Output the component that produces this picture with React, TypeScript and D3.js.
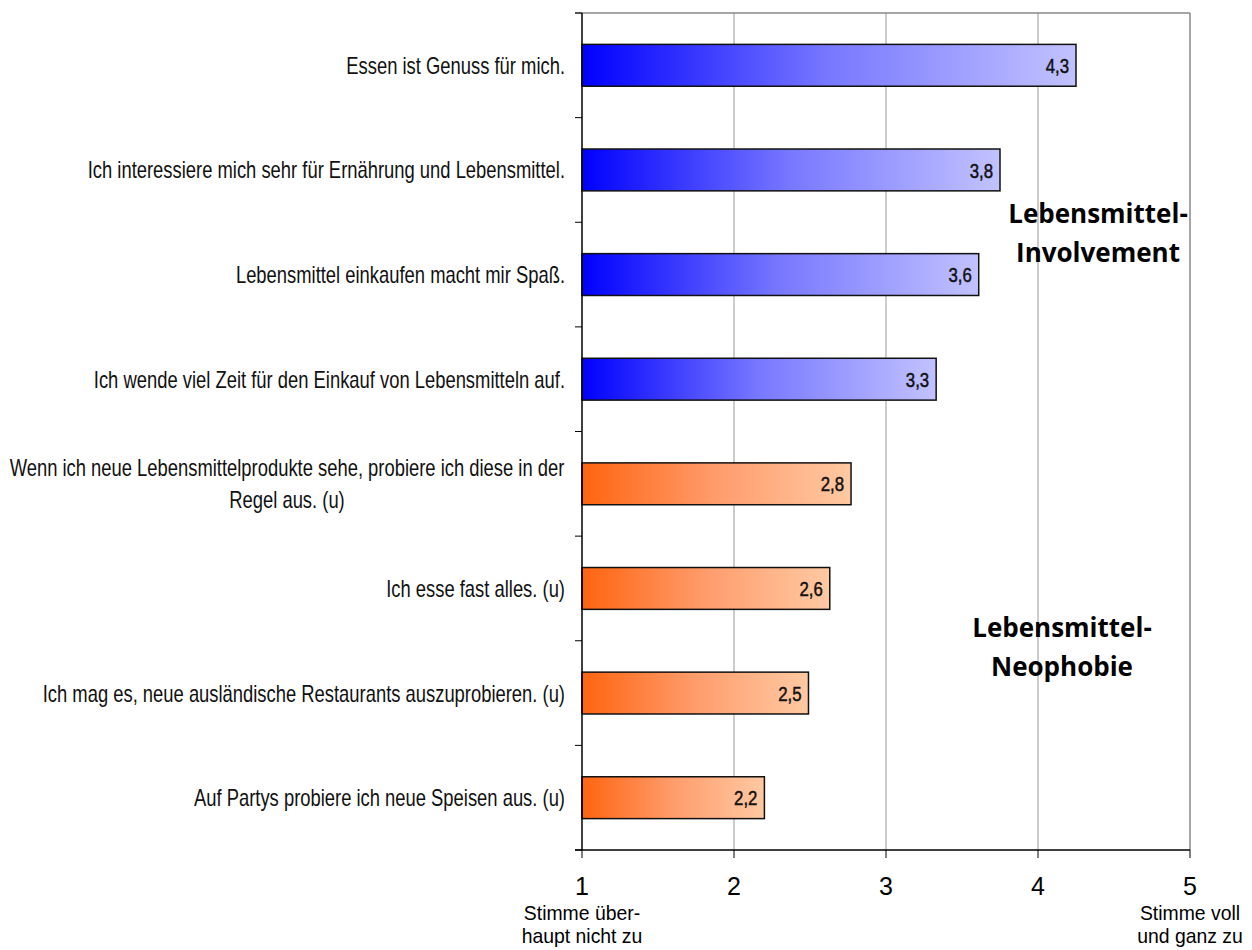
import React from 'react';
import * as d3 from 'd3';

const categories = [
  'Essen ist Genuss für mich.',
  'Ich interessiere mich sehr für Ernährung und Lebensmittel.',
  'Lebensmittel einkaufen macht mir Spaß.',
  'Ich wende viel Zeit für den Einkauf von Lebensmitteln auf.',
  'Wenn ich neue Lebensmittelprodukte sehe, probiere ich diese in der|Regel aus. (u)',
  'Ich esse fast alles. (u)',
  'Ich mag es, neue ausländische Restaurants auszuprobieren. (u)',
  'Auf Partys probiere ich neue Speisen aus. (u)',
];
const values = [4.25, 3.75, 3.61, 3.33, 2.77, 2.63, 2.49, 2.2];
const groups = ['inv', 'inv', 'inv', 'inv', 'neo', 'neo', 'neo', 'neo'];
const xTicks = [1, 2, 3, 4, 5];

const sans = "'Liberation Sans', Arial, sans-serif";
const bold = "'Open Sans', 'Noto Sans', sans-serif";

const App: React.FC = () => {
  const width = 1252;
  const height = 950;
  const margin = { top: 13, right: 62, bottom: 100, left: 582 };

  const x = d3.scaleLinear().domain([1, 5]).range([margin.left, width - margin.right]);
  const y = d3
    .scaleBand<number>()
    .domain(d3.range(categories.length))
    .range([margin.top, height - margin.bottom])
    .paddingInner(0.6)
    .paddingOuter(0.3);
  const step = y.step();
  const bottom = height - margin.bottom;

  return (
    <div style={{ position: 'absolute', left: 0, top: 0 }}>
      <svg width={width} height={height} style={{ display: 'block' }}>
        <defs>
          <linearGradient id="g-inv" x1="0" x2="1" y1="0" y2="0">
            <stop offset="0" stopColor="#0000ff" />
            <stop offset="0.5" stopColor="#7878ff" />
            <stop offset="1" stopColor="#c2c2ff" />
          </linearGradient>
          <linearGradient id="g-neo" x1="0" x2="1" y1="0" y2="0">
            <stop offset="0" stopColor="#ff6410" />
            <stop offset="0.5" stopColor="#ff9c6c" />
            <stop offset="1" stopColor="#ffc9a2" />
          </linearGradient>
        </defs>

        {/* plot frame and grid */}
        <line x1={margin.left - 7} x2={x(5)} y1={margin.top} y2={margin.top} stroke="#888" strokeWidth={1.5} />
        {xTicks.slice(1).map((t) => (
          <line key={t} x1={x(t)} x2={x(t)} y1={margin.top} y2={bottom} stroke={t === 5 ? '#888' : '#999'} strokeWidth={t === 5 ? 1.5 : 1} />
        ))}

        {/* bars */}
        {values.map((v, i) => (
          <g key={i}>
            <rect
              x={x(1)}
              y={y(i)!}
              width={x(v) - x(1)}
              height={y.bandwidth()}
              fill={`url(#g-${groups[i]})`}
              stroke="#111"
              strokeWidth={1.5}
            />
            <text
              transform={`translate(${x(v) - 7},${y(i)! + y.bandwidth() / 2}) scale(0.8,1)`}
              dy="0.36em"
              textAnchor="end"
              fontFamily={sans}
              fontSize={21}
              fill="#111"
              stroke="#111"
              strokeWidth={0.5}
            >
              {d3.format('.1f')(v).replace('.', ',')}
            </text>
          </g>
        ))}

        {/* category labels */}
        {categories.map((c, i) => {
          const lines = c.split('|');
          const cy = y(i)! + y.bandwidth() / 2;
          const lh = 32;
          const multi = lines.length > 1;
          const ax = multi ? 287 : margin.left - 17;
          return (
            <text
              key={i}
              transform={`translate(${ax},${cy}) scale(0.8,1)`}
              textAnchor={multi ? 'middle' : 'end'}
              fontFamily={sans}
              fontSize={23}
              fill="#111"
            >
              {lines.map((l, j) => (
                <tspan key={j} x={0} y={(j - (lines.length - 1) / 2) * lh} dy="0.37em">
                  {l}
                </tspan>
              ))}
            </text>
          );
        })}

        {/* y axis */}
        <line x1={margin.left} x2={margin.left} y1={margin.top} y2={bottom} stroke="#000" strokeWidth={1.5} />
        {d3.range(categories.length + 1).map((k) => (
          <line
            key={k}
            x1={margin.left - 7}
            x2={margin.left}
            y1={margin.top + k * step}
            y2={margin.top + k * step}
            stroke="#000"
          />
        ))}

        {/* x axis */}
        <line x1={margin.left - 7} x2={x(5)} y1={bottom} y2={bottom} stroke="#000" strokeWidth={1.5} />
        {xTicks.map((t) => (
          <g key={t}>
            <line x1={x(t)} x2={x(t)} y1={bottom} y2={bottom + 8} stroke="#000" />
            <text x={x(t)} y={bottom + 45} textAnchor="middle" fontFamily={sans} fontSize={25} fill="#000">
              {t}
            </text>
          </g>
        ))}
        <text transform={`translate(${x(1)},0) scale(0.97,1)`} textAnchor="middle" fontFamily={sans} fontSize={20} fill="#000">
          <tspan x={0} y={bottom + 70}>Stimme über-</tspan>
          <tspan x={0} y={bottom + 93}>haupt nicht zu</tspan>
        </text>
        <text transform={`translate(${x(5)},0) scale(0.97,1)`} textAnchor="middle" fontFamily={sans} fontSize={20} fill="#000">
          <tspan x={0} y={bottom + 70}>Stimme voll</tspan>
          <tspan x={0} y={bottom + 93}>und ganz zu</tspan>
        </text>

        {/* group annotations */}
        <text textAnchor="middle" fontFamily={bold} fontSize={26} fontWeight="bold" fill="#000">
          <tspan x={1098} y={223}>Lebensmittel-</tspan>
          <tspan x={1098} y={262}>Involvement</tspan>
        </text>
        <text textAnchor="middle" fontFamily={bold} fontSize={26} fontWeight="bold" fill="#000">
          <tspan x={1062} y={637}>Lebensmittel-</tspan>
          <tspan x={1062} y={676}>Neophobie</tspan>
        </text>
      </svg>
    </div>
  );
};

export default App;
